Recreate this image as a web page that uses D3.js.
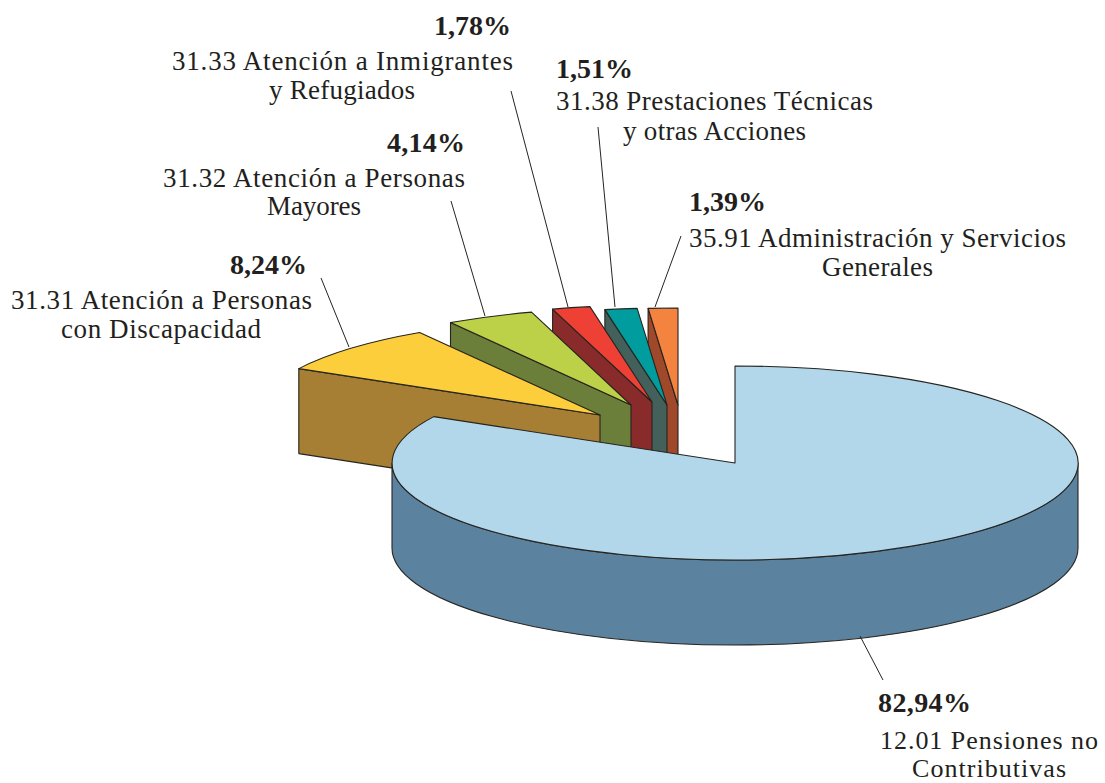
<!DOCTYPE html>
<html><head><meta charset="utf-8">
<script src="https://cdn.jsdelivr.net/npm/d3@7"></script>
<style>html,body{margin:0;background:#fff}svg{display:block}text{font-family:"Liberation Serif",serif;fill:#231f20}</style>
</head><body><div id="c"></div>
<script>
const W = 1105, H = 783;
const categories = ["12.01 Pensiones no Contributivas","31.31 Atención a Personas con Discapacidad","31.32 Atención a Personas Mayores","31.33 Atención a Inmigrantes y Refugiados","31.38 Prestaciones Técnicas y otras Acciones","35.91 Administración y Servicios Generales"];
const values = [82.94, 8.24, 4.14, 1.78, 1.51, 1.39];
const topColors = ["#b3d7ea","#fdce3c","#bcd048","#ee4035","#009c9e","#f58340"];
const sideColors = ["#5b829f","#a67f35","#6b7e3a","#8a2b2b","#43605a","#a0492a"];
// exploded slice displacement from the pie centre (px)
const explodeX = [0,-135,-104,-83,-68,-57];
const explodeY = [0,-48,-58,-61,-58,-58];
const cx = 735, cy = 463, rx = 343, ry = 97, depth = 85;
// label lines: text, x start, x end, baseline, font size, bold
const labelText = ["1,78%","31.33 Atención a Inmigrantes","y Refugiados","1,51%","31.38 Prestaciones Técnicas","y otras Acciones","4,14%","31.32 Atención a Personas","Mayores","8,24%","31.31 Atención a Personas","con Discapacidad","1,39%","35.91 Administración y Servicios","Generales","82,94%","12.01 Pensiones no","Contributivas"];
const labelX0 = [434,172,269,556,556,623,387,163,267,230,11,61,689,689,822,878,880,912];
const labelX1 = [511,513,415,633,873,806,465,465,361,307,312,261,766,1066,933,971,1098,1066];
const labelY = [35,70,99,78,110,140,152,187,215,274,309,338,211,247,276,712,749,777];
const labelSize = [28,27,27,28,27,27,28,27,27,28,27,27,28,27,27,28,26,26];
const labelBold = [1,0,0,1,0,0,1,0,0,1,0,0,1,0,0,1,0,0];
const leaderX1 = [321,451,511,598,681,860], leaderY1 = [278,201,91,127,236,636];
const leaderX2 = [349,485,568,615,655,883], leaderY2 = [347,316,307,307,307,680];

const svg = d3.select("#c").append("svg").attr("width",W).attr("height",H);
const arcs = d3.pie().sort(null).value(d=>d)(values);
const ex = a => rx*Math.sin(a), ey = a => -ry*Math.cos(a);
const unitArc = d3.arc().innerRadius(0).outerRadius(1);
const stroke = "#26241f", sw = 1.1;

function drawTop(g,d,i){
  g.append("path").attr("d",unitArc(d)).attr("transform",`scale(${rx},${ry})`)
   .attr("fill",topColors[i]).attr("stroke",stroke).attr("stroke-width",sw)
   .attr("stroke-linejoin","round").attr("vector-effect","non-scaling-stroke");
}
// exploded slices, right to left so each covers the neighbour's wall
d3.range(values.length-1,0,-1).forEach(i=>{
  const d = arcs[i];
  const g = svg.append("g").attr("transform",`translate(${cx+explodeX[i]},${cy+explodeY[i]})`);
  const p = d3.path();
  p.moveTo(ex(d.startAngle),ey(d.startAngle));
  p.lineTo(0,0); p.lineTo(0,depth);
  p.lineTo(ex(d.startAngle),ey(d.startAngle)+depth); p.closePath();
  g.append("path").attr("d",p.toString()).attr("fill",sideColors[i]).attr("stroke",stroke).attr("stroke-width",sw).attr("stroke-linejoin","round");
  drawTop(g,d,i);
});
// main slice
const m = svg.append("g").attr("transform",`translate(${cx},${cy})`);
m.append("path").attr("d",`M${rx},0 A${rx},${ry} 0 0 1 ${-rx},0 L${-rx},${depth} A${rx},${ry} 0 0 0 ${rx},${depth} Z`)
 .attr("fill",sideColors[0]).attr("stroke",stroke).attr("stroke-width",sw);
drawTop(m,arcs[0],0);

// leaders
svg.append("g").selectAll("line").data(leaderX1).join("line")
 .attr("x1",d=>d).attr("y1",(d,i)=>leaderY1[i]).attr("x2",(d,i)=>leaderX2[i]).attr("y2",(d,i)=>leaderY2[i])
 .attr("stroke",stroke).attr("stroke-width",1);
// labels
svg.append("g").selectAll("text").data(labelText).join("text")
 .text(d=>d).attr("x",(d,i)=>labelX0[i]).attr("y",(d,i)=>labelY[i])
 .attr("font-size",(d,i)=>labelSize[i]).attr("font-weight",(d,i)=>labelBold[i]?700:400)
 .attr("textLength",(d,i)=>labelX1[i]-labelX0[i]).attr("lengthAdjust","spacing");
</script></body></html>
